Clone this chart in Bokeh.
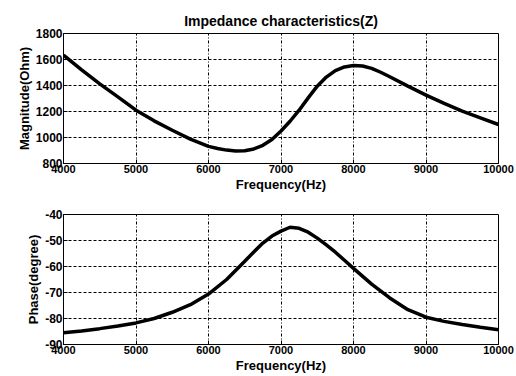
from bokeh.plotting import figure
from bokeh.layouts import column
from bokeh.models import Range1d, FixedTicker, ColumnDataSource
from bokeh.embed import file_html
from bokeh.resources import INLINE

mag_freq = [4000, 4250, 4500, 4750, 5000, 5250, 5500, 5750, 6000, 6125, 6250, 6375,
            6500, 6625, 6750, 6875, 7000, 7125, 7250, 7375, 7500, 7625, 7750, 7875,
            8000, 8125, 8250, 8375, 8500, 8750, 9000, 9250, 9500, 9750, 10000]
magnitude = [1633, 1520, 1412, 1313, 1210, 1128, 1056, 987, 932, 915, 903, 897,
             898, 912, 940, 985, 1050, 1125, 1210, 1305, 1395, 1465, 1515, 1543,
             1554, 1550, 1532, 1502, 1467, 1395, 1326, 1262, 1203, 1151, 1100]

ph_freq = [4000, 4250, 4500, 4750, 5000, 5250, 5500, 5750, 6000, 6250, 6500, 6625,
           6750, 6875, 7000, 7125, 7250, 7375, 7500, 7625, 7750, 7875, 8000, 8250,
           8500, 8750, 9000, 9250, 9500, 9750, 10000]
phase = [-85.5, -84.8, -83.9, -82.9, -81.7, -80.0, -77.6, -74.7, -70.6, -65.0, -58.0, -54.4,
         -51.0, -48.3, -46.4, -44.9, -45.3, -46.8, -49.1, -51.7, -54.5, -57.6, -60.7, -66.8,
         -72.1, -76.6, -79.5, -81.1, -82.3, -83.4, -84.3]

x_ticks = [4000, 5000, 6000, 7000, 8000, 9000, 10000]
mag_ticks = [800, 1000, 1200, 1400, 1600, 1800]
phase_ticks = [-90, -80, -70, -60, -50, -40]
phase_tick_labels = ["-90", "-80", "-70", "-60", "-50", "-40"]

FONT = "Liberation Sans"


def style(p, yticks, ylabels=None):
    p.outline_line_color = "black"
    p.outline_line_width = 1
    for ax in (p.xaxis[0], p.yaxis[0]):
        ax.major_tick_in = 4
        ax.major_tick_out = 0
        ax.minor_tick_line_color = None
        ax.axis_line_color = "black"
        ax.major_tick_line_color = "black"
        ax.major_label_text_font = FONT
        ax.major_label_text_font_style = "bold"
        ax.major_label_text_color = "black"
        ax.axis_label_text_font = FONT
        ax.axis_label_text_font_style = "bold"
        ax.axis_label_text_font_size = "13px"
        ax.axis_label_text_color = "black"
        ax.major_label_standoff = 1
        ax.axis_label_standoff = 1
    p.xaxis[0].major_label_text_font_size = "11px"
    p.yaxis[0].major_label_text_font_size = "12px"
    p.xaxis[0].ticker = FixedTicker(ticks=x_ticks)
    p.yaxis[0].ticker = FixedTicker(ticks=yticks)
    if ylabels is not None:
        p.yaxis[0].major_label_overrides = {t: l for t, l in zip(yticks, ylabels)}
    p.xgrid.grid_line_color = "black"
    p.xgrid.grid_line_dash = "3 2 1 2"
    p.ygrid.grid_line_color = "black"
    p.ygrid.grid_line_dash = "3 2"
    p.xgrid.grid_line_width = 1
    p.ygrid.grid_line_width = 1


src_m = ColumnDataSource(dict(f=mag_freq, m=magnitude))
src_p = ColumnDataSource(dict(f=ph_freq, ph=phase))

p1 = figure(width=516, height=193, frame_width=435, frame_height=130,
            output_backend="svg", toolbar_location=None,
            x_range=Range1d(4000, 10000), y_range=Range1d(800, 1800),
            min_border_left=63, min_border_right=18, min_border_top=33, min_border_bottom=30,
            title="Impedance characteristics(Z)")
p1.title.align = "center"
p1.title.text_font = FONT
p1.title.text_font_style = "bold"
p1.title.text_font_size = "14px"
p1.title.text_color = "black"
p1.xaxis.axis_label = "Frequency(Hz)"
p1.yaxis.axis_label = "Magnitude(Ohm)"
style(p1, mag_ticks)
p1.line("f", "m", source=src_m, line_color="black", line_width=3.5)

p2 = figure(width=516, height=183, frame_width=435, frame_height=130,
            output_backend="svg", toolbar_location=None,
            x_range=Range1d(4000, 10000), y_range=Range1d(-90, -40),
            min_border_left=63, min_border_right=18, min_border_top=20, min_border_bottom=33)
p2.xaxis.axis_label = "Frequency(Hz)"
p2.yaxis.axis_label = "Phase(degree)"
style(p2, phase_ticks, phase_tick_labels)
p2.line("f", "ph", source=src_p, line_color="black", line_width=3.5)

layout = column(p1, p2)
open("out.html", "w").write(file_html(layout, INLINE))
